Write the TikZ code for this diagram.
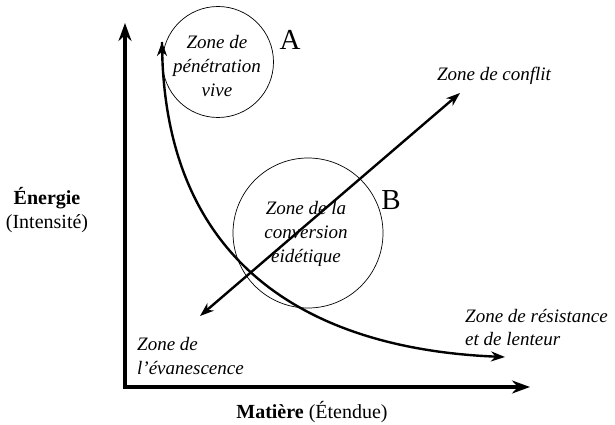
\documentclass[tikz,border=0pt]{standalone}
\usepackage{fontspec}
\setmainfont{Liberation Serif}
\usetikzlibrary{arrows.meta}
\begin{document}
\begin{tikzpicture}[x=1pt,y=-1pt,
  zone/.style={circle,draw,line width=0.7pt,inner sep=0pt},
  lbl/.style={font=\fontsize{19}{24}\selectfont\itshape,align=center,inner sep=0pt},
  lbll/.style={font=\fontsize{19}{24}\selectfont\itshape,align=left,anchor=west,inner sep=0pt},
  big/.style={font=\fontsize{29}{30}\selectfont,inner sep=0pt},
  axis/.style={line width=4pt,-{Stealth[length=18pt,width=13pt]}},
  flow/.style={line width=2.4pt,-{Stealth[length=14pt,width=10pt]}},
  ttl/.style={font=\fontsize{20}{24}\selectfont,inner sep=0pt}]
\useasboundingbox (0,0) rectangle (615,425);
% axes
\coordinate (o) at (125,387);
\coordinate (ytip) at (125,23);
\coordinate (xtip) at (530,387);
\draw[axis,line cap=rect] (o) -- (ytip);
\draw[axis] (o) -- (xtip);
% circles
\node[zone,minimum size=111pt] (ca) at (218,62) {};
\node[zone,minimum size=150pt] (cb) at (308,233) {};
\node[lbl] (ta) at (217,66) {Zone de\\pénétration\\vive};
\node[lbl] (tb) at (306,234) {Zone de la\\conversion\\éidétique};
\node[big] (la) at (290,40) {A};
\node[big] (lb) at (391,200) {B};
% double arrow
\coordinate (dlo) at (200,316);
\coordinate (dhi) at (460,93);
\draw[line width=2.4pt,{Stealth[length=14pt,width=10pt]}-{Stealth[length=14pt,width=10pt]}] (dlo) -- (dhi);
% curve
\coordinate (cs) at (505,357);
\coordinate (ce) at (162,42);
\draw[flow] (ce) .. controls (163,280) and (330,350) .. (cs);
\draw[line width=2.4pt,{Stealth[length=14pt,width=10pt]}-] (ce) -- ++(0,6);
% labels
\node[lbl] (zc) at (494,76) {Zone de conflit};
\node[lbll] (zr) at (465,316) {Zone de résistance};
\node[lbll] (zl) at (465,339) {et de lenteur};
\node[lbll] (ze1) at (137,344) {Zone de};
\node[lbll] (ze2) at (137,368) {l’évanescence};
\node[ttl] (en) at (47,198) {\textbf{Énergie}};
\node[ttl] (in) at (47,224) {(Intensité)};
\node[ttl] (ma) at (312,412) {\textbf{Matière} (Étendue)};
\end{tikzpicture}
\end{document}
